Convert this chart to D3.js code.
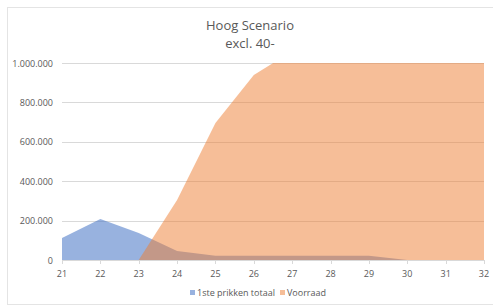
<!DOCTYPE html>
<html>
<head>
<meta charset="utf-8">
<script src="https://cdn.jsdelivr.net/npm/d3@7"></script>
<style>
  body { margin: 0; background: #fff; }
  svg { display: block; font-family: "Open Sans", "Liberation Sans", sans-serif; }
</style>
</head>
<body>
<svg id="chart" width="493" height="307"></svg>
<script>
// chart data
const weeks = [21, 22, 23, 24, 25, 26, 27, 28, 29, 30, 31, 32];
const prikken = [112000, 208000, 137000, 46000, 22000, 22000, 22000, 22000, 22000, 0, 0, 0];
const voorraad = [null, null, 0, 305000, 695000, 939000, 1060000, 1060000, 1060000, 1060000, 1060000, 1060000];
const yTicks = [0, 200000, 400000, 600000, 800000, 1000000];
const seriesNames = ["1ste prikken totaal", "Voorraad"];

const svg = d3.select("#chart");
const margin = { left: 62, right: 9, top: 63, bottom: 47 };
const width = 493, height = 307;

const x = d3.scaleLinear().domain([21, 32]).range([margin.left, width - margin.right]);
const y = d3.scaleLinear().domain([0, 1000000]).range([height - margin.bottom, margin.top]);

// outer frame
svg.append("rect")
  .attr("x", 7.5).attr("y", 7.5)
  .attr("width", 495).attr("height", 297)
  .attr("fill", "none").attr("stroke", "#e4e4e4");

// title
svg.append("text").attr("x", 250).attr("y", 30)
  .attr("text-anchor", "middle").attr("font-size", 13).attr("fill", "#595959")
  .text("Hoog Scenario");
svg.append("text").attr("x", 250).attr("y", 48)
  .attr("text-anchor", "middle").attr("font-size", 13).attr("fill", "#595959")
  .text("excl. 40-");

// gridlines
svg.append("g").selectAll("line").data(yTicks.slice(1)).join("line")
  .attr("x1", margin.left).attr("x2", width - margin.right)
  .attr("y1", d => Math.round(y(d)) + 0.5).attr("y2", d => Math.round(y(d)) + 0.5)
  .attr("stroke", "#d9d9d9");

// y labels
const fmt = d3.formatLocale({ decimal: ",", thousands: ".", grouping: [3], currency: ["", ""] }).format(",d");
svg.append("g").selectAll("text").data(yTicks).join("text")
  .attr("x", 53).attr("y", d => y(d) + 3.5)
  .attr("text-anchor", "end").attr("font-size", 9).attr("fill", "#595959")
  .text(d => fmt(d));

// clip to plot area
svg.append("clipPath").attr("id", "plot")
  .append("rect")
  .attr("x", margin.left).attr("y", margin.top)
  .attr("width", width - margin.left - margin.right)
  .attr("height", height - margin.top - margin.bottom);

const area = d3.area()
  .defined(d => d[1] !== null)
  .x(d => x(d[0]))
  .y0(y(0))
  .y1(d => y(d[1]));

const plot = svg.append("g").attr("clip-path", "url(#plot)");
plot.append("path")
  .datum(weeks.map((w, i) => [w, prikken[i]]))
  .attr("d", area)
  .attr("fill", "#4472c4").attr("fill-opacity", 0.55);
plot.append("path")
  .datum(weeks.map((w, i) => [w, voorraad[i]]))
  .attr("d", area)
  .attr("fill", "#ed7d31").attr("fill-opacity", 0.5);

// x axis
const xAxis = svg.append("g").attr("transform", `translate(0,${y(0)})`);
xAxis.append("line")
  .attr("x1", margin.left).attr("x2", width - margin.right)
  .attr("y1", 0.5).attr("y2", 0.5).attr("stroke", "#d9d9d9");
xAxis.selectAll(".tick").data(weeks).join("line")
  .attr("x1", d => Math.round(x(d)) + 0.5).attr("x2", d => Math.round(x(d)) + 0.5)
  .attr("y1", 0).attr("y2", 4).attr("stroke", "#d9d9d9");
xAxis.selectAll("text").data(weeks).join("text")
  .attr("x", d => x(d)).attr("y", 17)
  .attr("text-anchor", "middle").attr("font-size", 9).attr("fill", "#595959")
  .text(d => d);

// legend
const legend = svg.append("g").attr("font-size", 9).attr("fill", "#595959");
const legendX = [190, 280];
const legendColors = [["#4472c4", 0.55], ["#ed7d31", 0.5]];
seriesNames.forEach((name, i) => {
  legend.append("rect")
    .attr("x", legendX[i]).attr("y", 290).attr("width", 5).attr("height", 5)
    .attr("fill", legendColors[i][0]).attr("fill-opacity", legendColors[i][1]);
  legend.append("text")
    .attr("x", legendX[i] + 7).attr("y", 296)
    .text(name);
});
</script>
</body>
</html>
